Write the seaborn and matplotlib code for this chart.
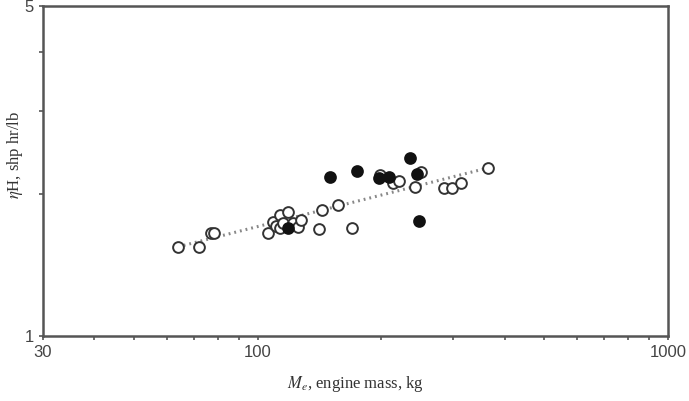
import numpy as np
import pandas as pd
import matplotlib
matplotlib.use('Agg')
import matplotlib.pyplot as plt
import seaborn as sns
from matplotlib.ticker import FixedLocator, NullFormatter, FixedFormatter

# engine mass (kg) and eta*H (shp hr/lb)
mass_open = [64.1, 72.1, 77.0, 78.5, 106.2, 109.1, 110.9, 113.4, 113.4, 115.5, 118.8,
             122.2, 125.6, 127.6, 141.2, 143.3, 156.8, 169.6, 198.7, 213.4, 221.5,
             242.3, 249.7, 285.1, 297.2, 312.6, 363.6]
eta_open = [1.544, 1.546, 1.651, 1.651, 1.651, 1.747, 1.711, 1.805, 1.691, 1.733, 1.834,
            1.733, 1.704, 1.761, 1.683, 1.849, 1.892, 1.691, 2.193, 2.113, 2.134,
            2.072, 2.229, 2.062, 2.062, 2.113, 2.273]

mass_filled = [118.8, 150.1, 175.0, 197.6, 209.4, 235.2, 245.0, 247.8]
eta_filled = [1.691, 2.169, 2.236, 2.159, 2.176, 2.379, 2.201, 1.755]

# trend line end points
trend_mass = [64.0, 364.0]
trend_eta = [1.545, 2.27]

x_ticks = [30, 100, 1000]
x_minor = [40, 50, 60, 70, 80, 90, 200, 300, 400, 500, 600, 700, 800, 900]
y_ticks = [1, 5]
y_minor = [2, 3, 4]

sns.set_style('white')
plt.rcParams['font.family'] = ['Liberation Sans', 'DejaVu Sans']
plt.rcParams['mathtext.fontset'] = 'stix'

fig = plt.figure(figsize=(6.89, 4.01), dpi=100)
ax = fig.add_axes([0.0624, 0.162, 0.907, 0.823])

sns.lineplot(x=trend_mass, y=trend_eta, ax=ax, color='#888888', lw=2.2,
             linestyle=(0, (0.6, 1.3)), zorder=1)
sns.scatterplot(x=mass_open, y=eta_open, ax=ax, s=60, color='white',
                edgecolor='#333333', linewidth=1.4, zorder=3)
sns.scatterplot(x=mass_filled, y=eta_filled, ax=ax, s=60, color='#111111',
                edgecolor='#111111', linewidth=1.4, zorder=4)

ax.set_xscale('log')
ax.set_yscale('log')
ax.set_xlim(30, 1000)
ax.set_ylim(1, 5)

ax.xaxis.set_major_locator(FixedLocator(x_ticks))
ax.xaxis.set_major_formatter(FixedFormatter([str(v) for v in x_ticks]))
ax.xaxis.set_minor_locator(FixedLocator(x_minor))
ax.xaxis.set_minor_formatter(NullFormatter())
ax.yaxis.set_major_locator(FixedLocator(y_ticks))
ax.yaxis.set_major_formatter(FixedFormatter([str(v) for v in y_ticks]))
ax.yaxis.set_minor_locator(FixedLocator(y_minor))
ax.yaxis.set_minor_formatter(NullFormatter())

ax.tick_params(which='both', direction='out', length=3, width=1.2, color='#555555',
               labelsize=12, labelcolor='#444444', bottom=True, left=True)

for sp in ax.spines.values():
    sp.set_color('#555555')
    sp.set_linewidth(1.8)

ax.set_xlabel(r'$M_e$, engine mass, kg', family='Liberation Serif', fontsize=12,
              color='#333333', labelpad=10)
ax.set_ylabel(r'$\eta$H, shp hr/lb', family='Liberation Serif', fontsize=12,
              color='#333333')
ax.yaxis.set_label_coords(-0.028, 0.55)

fig.savefig('out.png', dpi=100)
